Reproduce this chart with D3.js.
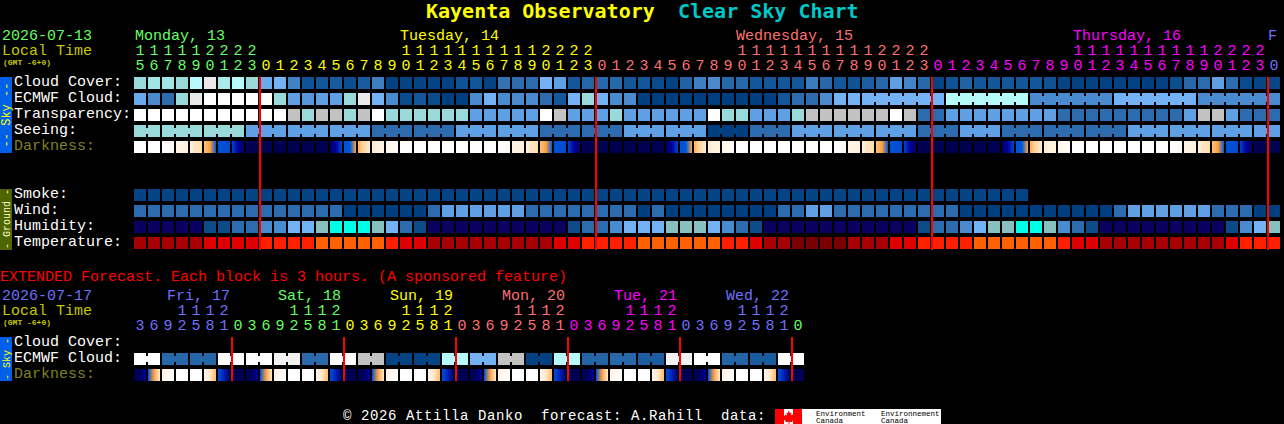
<!DOCTYPE html>
<html>
<head>
<meta charset="utf-8">
<title>Kayenta Observatory Clear Sky Chart</title>
<script src="https://cdn.jsdelivr.net/npm/d3@7"></script>
<style>
    html, body { margin: 0; padding: 0; background: #000; overflow: hidden; }
    svg { display: block; }
    text { font-family: "Liberation Mono", "DejaVu Sans Mono", monospace; font-size: 15px; white-space: pre; }
    .title { font-family: "DejaVu Sans Mono", monospace; }
</style>
</head>
<body>
<svg id="chart" width="1284" height="424"></svg>
<script>
const cloudCover = [
    6, 6.3, 6.3, 6, 7, 9, 6.5, 7, 6, 4.5,
    5, 2.7, 0.8, 1, 1.2, 0.6, 1.2, 2.6, 0.1, 0.2,
    0.2, 0.2, 0.1, 0.8, 0.9, 0.2, 2.2, 2, 2, 5,
    4, 1, 1.7, 1.8, 1.8, 1, 1, 0.5, 0.1, 1.5,
    2.6, 3, 1.8, 1.8, 1, 1, 1, 1, 2.5, 1.8,
    1, 0.8, 1.3, 1.8, 4, 2.8, 1.8, 0.2, 0.8, 1.5,
    1, 1, 1, 1, 1, 0.8, 0.2, 0.1, 0.1, 0.1,
    0.1, 0.1, 0, 0.1, 0.6, 1.8, 2, 4, 2, 0.5,
    0.3, 0.3
];
const ecmwfCloud = [
    4.5, 3, 2, 6, 9, 10, 10, 10, 10, 10,
    6, 4, 3.5, 4, 4, 6, 9, 5, 3, 0.5,
    1, 0.5, 0, 0, 3, 5, 3, 3, 3, 2,
    1, 5, 6, 5, 3, 3, 0, 0, 0, 0,
    0, 0, 0, 0, 0, 0, 1, 2, 2, 3,
    5, 5, 5, 5, 5, 5, 5, 5, 7, 7,
    7, 7, 7, 7, 3, 3, 3, 3, 3, 3,
    5, 5, 5, 5, 5, 5, 3, 3, 3, 3,
    3, 3
];
const transparency = [
    10, 10, 10, 10, 10, 10, 10, 10, 10, 10,
    10, 8, 6, 8, 8, 6, 8, 10, 6, 6,
    6, 6, 6, 6, 4, 4, 4, 4, 4, 10,
    8, 4, 4, 4, 6, 4, 4, 4, 4, 4,
    4, 10, 6, 6, 4, 4, 4, 6, 8, 8,
    8, 8, 8, 8, 10, 8, 2, 2, 4, 4,
    4, 4, 4, 4, 4, 4, 2, 2, 2, 2,
    2, 2, 2, 2, 2, 4, 8, 8, 4, 2,
    2, 2
];
const seeing = [
    6, 6, 6, 6, 6, 6, 6, 6, 4, 4,
    4, 4, 4, 4, 4, 4, 4, 2, 2, 2,
    2, 2, 2, 4, 4, 4, 4, 4, 4, 2,
    2, 2, 2, 2, 2, 4, 4, 4, 4, 4,
    4, 0, 0, 0, 2, 2, 2, 4, 4, 4,
    4, 4, 4, 4, 4, 4, 2, 2, 2, 4,
    4, 4, 2, 2, 2, 2, 2, 2, 2, 2,
    2, 4, 4, 4, 4, 4, 4, 4, 4, 4,
    4, 4
];
const smoke = [
    0.2, 0.2, 0.2, 0.1, 0.1, 0.2, 0.2, 0.2, 0.2, 0.1,
    0.2, 0.2, 0.2, 0.2, 0.2, 0.2, 0.2, 0.2, 0.2, 0.2,
    0.2, 0.2, 0.2, 0.2, 0.2, 0.2, 0.2, 0.2, 0.2, 0.2,
    0.2, 0.2, 0.2, 0.2, 0.2, 0.2, 0.2, 0.2, 0.2, 0.2,
    0.2, 0.2, 0.2, 0.2, 0.2, 0.2, 0.2, 0.2, 0.2, 0.2,
    0.2, 0.2, 0.2, 0.2, 0.2, 0.2, 0.2, 0.2, 0.2, 0.2,
    0.2, 0.2, 0.2, 0.2
];
const wind = [
    2, 2, 2, 2, 2, 2, 2, 2, 2, 2,
    2, 2, 2, 2, 2, 0, 0, 0, 0, 0,
    0, 2, 4, 4, 4, 4, 4, 4, 2, 2,
    2, 2, 2, 2, 2, 2, 0, 2, 0, 0,
    0, 0, 0, 0, 0, 0, 2, 2, 4, 4,
    2, 2, 2, 2, 2, 2, 2, 2, 2, 0,
    0, 0, 0, 0, 0, 0, 0, 0, 0, 0,
    2, 4, 4, 4, 4, 4, 4, 2, 2, 2,
    0, 0
];
// humidity and temperature use their own colour ramps, 0 = driest / coldest
const humidity = [
    0, 0, 0, 0, 0, 1, 1, 2, 2, 3,
    3, 4, 4, 5, 6, 6, 6, 5, 4, 2,
    1, 0, 0, 0, 0, 0, 0, 0, 0, 0,
    0, 1, 2, 2, 3, 4, 4, 4, 5, 5,
    5, 4, 3, 2, 1, 0, 0, 0, 0, 0,
    0, 0, 0, 0, 0, 0, 1, 2, 2, 3,
    4, 5, 5, 6, 6, 5, 3, 2, 1, 0,
    0, 0, 0, 0, 0, 0, 0, 0, 1, 3,
    4, 5
];
const temperature = [
    1, 1, 1, 1, 1, 2, 2, 2, 2, 3,
    3, 3, 3, 4, 4, 4, 4, 4, 3, 2,
    2, 1, 1, 1, 1, 1, 1, 1, 1, 1,
    2, 2, 3, 3, 3, 3, 4, 4, 4, 4,
    4, 4, 3, 3, 2, 1, 1, 0, 0, 0,
    0, 1, 1, 1, 2, 2, 3, 3, 3, 3,
    4, 4, 4, 4, 4, 4, 3, 2, 2, 1,
    1, 1, 1, 1, 1, 1, 1, 1, 2, 3,
    3, 3
];
// darkness: left, middle and right of every block, 0 = daylight, 8 = full night
const darkness = [
    0,0,0, 0,0,0, 0,.2,.5, .6,.8,1, 1.1,1.5,2, 2.4,3,4.4, 4.5,4.6,4.8, 4.9,6,7.2, 7.6,7.8,7.8, 8,8,8, 8,8,8, 8,8,8,
    8,8,8, 8,8,7.8, 7.2,6,4.8, 4.6,4.4,3, 2.8,2,1.4, 1.2,1,.8, .7,.4,.2, 0,0,0, 0,0,0, 0,0,0, 0,0,0, 0,0,0,
    0,0,0, 0,0,0, 0,.2,.5, .6,.8,1, 1.1,1.5,2, 2.4,3,4.4, 4.5,4.6,4.8, 4.9,6,7.2, 7.6,7.8,7.8, 8,8,8, 8,8,8, 8,8,8,
    8,8,8, 8,8,7.8, 7.2,6,4.8, 4.6,4.4,3, 2.8,2,1.4, 1.2,1,.8, .7,.4,.2, 0,0,0, 0,0,0, 0,0,0, 0,0,0, 0,0,0,
    0,0,0, 0,0,0, 0,.2,.5, .6,.8,1, 1.1,1.5,2, 2.4,3,4.4, 4.5,4.6,4.8, 4.9,6,7.2, 7.6,7.8,7.8, 8,8,8, 8,8,8, 8,8,8,
    8,8,8, 8,8,7.8, 7.2,6,4.8, 4.6,4.4,3, 2.8,2,1.4, 1.2,1,.8, .7,.4,.2, 0,0,0, 0,0,0, 0,0,0, 0,0,0, 0,0,0,
    0,0,0, 0,0,0, 0,.2,.5, .6,.8,1, 1.1,1.5,2, 2.4,3,4.4, 4.5,4.6,4.8, 4.9,6,7.2, 7.6,7.8,7.8, 8,8,8
];
// blocks that come from a 3 hour model step are joined: [first block, count]
const ecmwfRuns = [[52, 6], [58, 6], [64, 6], [70, 6], [76, 6]];
const seeingRuns = [[0, 2], [2, 3], [5, 3], [8, 3], [11, 3], [14, 3], [17, 3], [20, 3], [23, 3], [26, 3], [29, 3], [32, 3], [35, 3],
    [38, 3], [41, 3], [44, 3], [47, 3], [50, 3], [53, 3], [56, 3], [59, 3], [62, 3], [65, 3], [68, 3], [71, 3], [74, 3], [77, 3], [80, 2]];

// hour labels
const hourTens = ["1","1","1","1","1","2","2","2","2"," "," "," "," "," "," "," "," "," "," ","1","1","1","1","1","1","1","1","1","1","2","2","2","2",
    " "," "," "," "," "," "," "," "," "," ","1","1","1","1","1","1","1","1","1","1","2","2","2","2",
    " "," "," "," "," "," "," "," "," "," ","1","1","1","1","1","1","1","1","1","1","2","2","2","2"," "];
const hourUnits = "5678901230123456789012345678901230123456789012345678901230123456789012345678901230".split("");
const days = [
    { label: "Monday, 13", x: 135, start: 0 },
    { label: "Tuesday, 14", x: 400, start: 9 },
    { label: "Wednesday, 15", x: 736, start: 33 },
    { label: "Thursday, 16", x: 1073, start: 57 },
    { label: "F", x: 1268, start: 81 }
];

// extended forecast
const extEcmwf = [10, 10, 1.8, 1.8, 1.7, 1.7, 10, 10, 10, 10, 9.4, 9.4, 1.9, 1.9, 10, 10, 8, 8, 0.2, 0.2, 0.2, 0.2, 7, 7, 5, 5, 8, 8, 0.1, 0.1, 7, 7,
    1.6, 1.6, 1.8, 1.8, 1.3, 1.3, 9.4, 9.4, 10, 10, 1.6, 1.6, 1.2, 1.2, 10, 10];
const extDarkness = [
    8,7.5,6, 4.6,3,1.2, .9,.4,0, 0,0,0, 0,0,0, .5,1.4,2.6, 4.6,5.5,7.4, 7.6,7.8,7.8,
    8,7.5,6, 4.6,3,1.2, .9,.4,0, 0,0,0, 0,0,0, .5,1.4,2.6, 4.6,5.5,7.4, 7.6,7.8,7.8,
    8,7.5,6, 4.6,3,1.2, .9,.4,0, 0,0,0, 0,0,0, .5,1.4,2.6, 4.6,5.5,7.4, 7.6,7.8,7.8,
    8,7.5,6, 4.6,3,1.2, .9,.4,0, 0,0,0, 0,0,0, .5,1.4,2.6, 4.6,5.5,7.4, 7.6,7.8,7.8,
    8,7.5,6, 4.6,3,1.2, .9,.4,0, 0,0,0, 0,0,0, .5,1.4,2.6, 4.6,5.5,7.4, 7.6,7.8,7.8,
    8,7.5,6, 4.6,3,1.2, .9,.4,0, 0,0,0, 0,0,0, .5,1.4,2.6, 4.6,5.5,7.4, 7.6,7.8,7.8
];
const extRuns = d3.range(0, 48, 2).map(i => [i, 2]);
const extTens = [" "," "," ","1","1","1","2"," "];
const extUnits = ["3","6","9","2","5","8","1","0"];
const extDays = [
    { label: "Fri, 17", x: 167, start: 0 },
    { label: "Sat, 18", x: 278, start: 7 },
    { label: "Sun, 19", x: 390, start: 15 },
    { label: "Mon, 20", x: 502, start: 23 },
    { label: "Tue, 21", x: 614, start: 31 },
    { label: "Wed, 22", x: 726, start: 39 },
    { label: "", x: 838, start: 47 }
];
const midnightBlocks = [9, 33, 57, 81];
const extMidnightBlocks = [7, 15, 23, 31, 39, 47];

// colours
const levelColor = d3.scaleLinear()
    .domain([0, 1, 2, 3, 4, 5, 6, 7, 8, 9, 10])
    .range(["#003f7f", "#13579a", "#2c6cae", "#4a8bd0", "#5f9fe3", "#73b2f5", "#99d9d9", "#b6fbfb", "#c2c2c2", "#e9e9e9", "#ffffff"]);
const humidityColor = d3.scaleOrdinal().domain(d3.range(7))
    .range(["#0a0060", "#0f4a88", "#2c6cae", "#4a8bd0", "#73b2f5", "#88c0c0", "#00ffe8"]);
const temperatureColor = d3.scaleOrdinal().domain(d3.range(5))
    .range(["#7a0000", "#a80000", "#e00000", "#ff2000", "#ff6000"]);
const darknessColor = d3.scaleLinear()
    .domain([0, 1, 2, 3, 3.5, 4, 4.4, 5, 6, 7, 8])
    .range(["#ffffff", "#fff0dc", "#ffdca8", "#ffa040", "#a0d060", "#00c8e0", "#0058d8", "#0040d0", "#0000a0", "#000066", "#000050"]);
const dayColors = ["#66ff66", "#ffff00", "#ff7070", "#ff00ff", "#7070ff"];
const extDayColors = ["#7070ff", "#66ff66", "#ffff00", "#ff7070", "#ff00ff", "#7070ff", "#66ff66"];

const svg = d3.select("#chart");
const blockSize = 12;

// one block every 14 pixels
const xScale = d3.scaleLinear().domain([0, 82]).range([134, 1282]);
const yScale = d3.scalePoint()
    .domain(["Cloud Cover", "ECMWF Cloud", "Transparency", "Seeing", "Darkness", "gap1", "gap2",
        "Smoke", "Wind", "Humidity", "Temperature"])
    .range([77, 237]);
const extY = d3.scalePoint().domain(["Cloud Cover", "ECMWF Cloud", "Darkness"]).range([337, 369]);

function addText(str, x, y, color, opts) {
    let o = opts || {};
    return svg.append("text")
        .attr("x", x)
        .attr("y", y)
        .attr("fill", color)
        .attr("class", o.cls || null)
        .style("font-size", o.size ? o.size + "px" : null)
        .style("font-weight", o.weight || null)
        .text(str);
}

function drawBlocks(values, y, colorFn, runs) {
    let g = svg.append("g");
    g.selectAll("rect.block")
        .data(values)
        .enter()
        .append("rect")
        .attr("class", "block")
        .attr("x", (d, i) => xScale(i))
        .attr("y", y)
        .attr("width", blockSize)
        .attr("height", blockSize)
        .attr("fill", d => colorFn(d));

    // little bridges between joined blocks
    let bridges = [];
    (runs || []).forEach(r => {
        for (let i = r[0]; i < r[0] + r[1] - 1; i++) bridges.push(i);
    });
    g.selectAll("rect.bridge")
        .data(bridges)
        .enter()
        .append("rect")
        .attr("class", "bridge")
        .attr("x", i => xScale(i) + blockSize)
        .attr("y", y + 3)
        .attr("width", 2)
        .attr("height", blockSize - 6)
        .attr("fill", i => colorFn(values[i]));
}

// Darkness blocks fade sideways, so every block gets its own gradient
function drawDarkness(values, y, prefix) {
    let cells = d3.range(values.length / 3);
    let grads = svg.append("defs").selectAll("linearGradient")
        .data(cells)
        .enter()
        .append("linearGradient")
        .attr("id", i => prefix + i);
    grads.selectAll("stop")
        .data(i => [0, 1, 2].map(k => ({ k: k, v: values[i * 3 + k] })))
        .enter()
        .append("stop")
        .attr("offset", d => d.k * 50 + "%")
        .attr("stop-color", d => darknessColor(d.v));
    svg.append("g").selectAll("rect")
        .data(cells)
        .enter()
        .append("rect")
        .attr("x", i => xScale(i))
        .attr("y", y)
        .attr("width", blockSize)
        .attr("height", blockSize)
        .attr("fill", i => `url(#${prefix}${i})`);
}

function drawMidnights(blocks, y0, y1) {
    svg.append("g").selectAll("rect")
        .data(blocks)
        .enter()
        .append("rect")
        .attr("x", i => xScale(i) - 1)
        .attr("y", y0)
        .attr("width", 2)
        .attr("height", y1 - y0)
        .attr("fill", "#ff0000");
}

function sideBar(y0, y1, color, textColor, label, cy, size) {
    svg.append("rect")
        .attr("x", 0).attr("y", y0)
        .attr("width", 12).attr("height", y1 - y0)
        .attr("fill", color);
    svg.append("text")
        .attr("transform", `translate(10, ${cy}) rotate(-90)`)
        .attr("text-anchor", "middle")
        .attr("fill", textColor)
        .style("font-size", size + "px")
        .text(label);
}

function dayOf(i, list) {
    let idx = 0;
    list.forEach((d, k) => { if (i >= d.start) idx = k; });
    return idx;
}

function digitRow(labels, y, colorFn) {
    svg.append("g").selectAll("text")
        .data(labels)
        .enter()
        .append("text")
        .attr("x", (d, i) => xScale(i) + 6)
        .attr("y", y)
        .attr("text-anchor", "middle")
        .attr("fill", (d, i) => colorFn(i))
        .text(d => d);
}

// title
addText("Kayenta Observatory", 426, 18, "#ffff00", { size: 20, weight: "bold", cls: "title" });
addText("Clear Sky Chart", 678, 18, "#00c8c8", { size: 20, weight: "bold", cls: "title" });

// header of the hourly part
addText("2026-07-13", 2, 40, "#66ff66");
addText("Local Time", 2, 55, "#c8c800");
addText("(GMT -6+0)", 3, 65, "#c8c800", { size: 8, weight: "bold" });

days.forEach((d, k) => addText(d.label, d.x, 40, dayColors[k]));
digitRow(hourTens, 55, i => dayColors[dayOf(i, days)]);
digitRow(hourUnits, 70, i => dayColors[dayOf(i, days)]);

// rows
drawBlocks(cloudCover, yScale("Cloud Cover"), levelColor);
drawBlocks(ecmwfCloud, yScale("ECMWF Cloud"), levelColor, ecmwfRuns);
drawBlocks(transparency, yScale("Transparency"), levelColor);
drawBlocks(seeing, yScale("Seeing"), levelColor, seeingRuns);
drawDarkness(darkness, yScale("Darkness"), "dark");
drawBlocks(smoke, yScale("Smoke"), levelColor);
drawBlocks(wind, yScale("Wind"), levelColor);
drawBlocks(humidity, yScale("Humidity"), humidityColor);
drawBlocks(temperature, yScale("Temperature"), temperatureColor);

const rowLabels = ["Cloud Cover", "ECMWF Cloud", "Transparency", "Seeing", "Darkness", "Smoke", "Wind", "Humidity", "Temperature"];
rowLabels.forEach(name => {
    addText(name + ":", 14, yScale(name) + 9, name === "Darkness" ? "#808020" : "#ffffff");
});

sideBar(77, 153, "#0060e8", "#ffff00", "-- Sky --", 115, 12);
sideBar(189, 250, "#4f6600", "#ffffcc", "- Ground -", 219, 10);
drawMidnights(midnightBlocks, 77, 250);

// extended forecast
addText("EXTENDED Forecast. Each block is 3 hours. (A sponsored feature)", 0, 281, "#ff0000");
addText("2026-07-17", 2, 300, "#7070ff");
addText("Local Time", 2, 315, "#c8c800");
addText("(GMT -6+0)", 3, 325, "#c8c800", { size: 8, weight: "bold" });

extDays.forEach((d, k) => addText(d.label, d.x, 300, extDayColors[k]));

const extBlocks = d3.range(48);
digitRow(extBlocks.map(i => extTens[i % 8]), 315, i => extDayColors[dayOf(i, extDays)]);
digitRow(extBlocks.map(i => extUnits[i % 8]), 330, i => extDayColors[dayOf(i, extDays)]);

drawBlocks(extEcmwf, extY("ECMWF Cloud"), levelColor, extRuns);
drawDarkness(extDarkness, extY("Darkness"), "ext");
["Cloud Cover", "ECMWF Cloud", "Darkness"].forEach(name => {
    addText(name + ":", 14, extY(name) + 9, name === "Darkness" ? "#808020" : "#ffffff");
});
sideBar(337, 381, "#0060e8", "#ffff00", "- Sky -", 359, 10);
drawMidnights(extMidnightBlocks, 337, 381);

// footer, a bit smaller so it stays inside the picture
addText("\u00a9 2026 Attilla Danko  forecast: A.Rahill  data:", 343, 419.7, "#ffffff", { size: 14 })
    .style("letter-spacing", "0.6px");

// Environment Canada logo
svg.append("rect").attr("x", 775).attr("y", 409).attr("width", 166).attr("height", 15).attr("fill", "#ffffff");
svg.append("rect").attr("x", 775).attr("y", 409).attr("width", 9).attr("height", 15).attr("fill", "#ff0000");
svg.append("rect").attr("x", 793).attr("y", 409).attr("width", 9).attr("height", 15).attr("fill", "#ff0000");
svg.append("path")
    .attr("d", "M788.5 410.5l1.5 2.5 1.5-.5-.5 3 1.5-1 1 1.5 1.5-.3-.8 2.3 1 .7-3 2.3.3 1.2-3-.4v2.2h-1v-2.2l-3 .4.3-1.2-3-2.3 1-.7-.8-2.3 1.5.3 1-1.5 1.5 1-.5-3 1.5.5z")
    .attr("fill", "#ff0000");
[["Environment", 816], ["Environnement", 881]].forEach(d => {
    addText(d[0], d[1], 416, "#000", { size: 7.5 });
    addText("Canada", d[1], 422.5, "#000", { size: 7.5 });
});
</script>
</body>
</html>
